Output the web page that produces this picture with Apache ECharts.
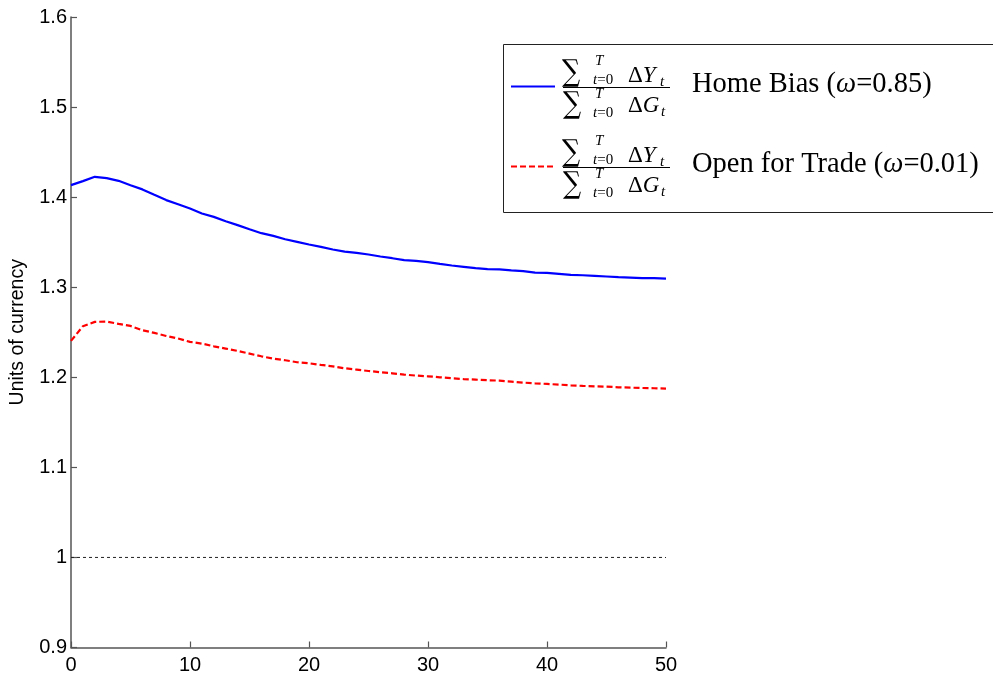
<!DOCTYPE html>
<html>
<head>
<meta charset="utf-8">
<script src="https://cdn.jsdelivr.net/npm/echarts@6/dist/echarts.min.js"></script>
<style>
html,body{margin:0;padding:0;background:#fff;}
#chart{width:993px;height:677px;}
</style>
</head>
<body>
<div id="chart"></div>
<script>
// ---- data ----
const periods = [0,1,2,3,4,5,6,7,8,9,10,11,12,13,14,15,16,17,18,19,20,21,22,23,24,25,26,27,28,29,30,31,32,33,34,35,36,37,38,39,40,41,42,43,44,45,46,47,48,49,50];
const homeBias = [1.4133,1.4178,1.4226,1.4211,1.4181,1.4133,1.4086,1.4026,1.3967,1.3922,1.3874,1.3819,1.3781,1.3733,1.3689,1.3644,1.3600,1.3570,1.3533,1.3504,1.3474,1.3448,1.3419,1.3396,1.3381,1.3363,1.3341,1.3322,1.3300,1.3293,1.3278,1.3259,1.3241,1.3226,1.3211,1.3200,1.3197,1.3186,1.3178,1.3163,1.3159,1.3148,1.3137,1.3133,1.3126,1.3119,1.3111,1.3107,1.3100,1.3100,1.3096];
const openTrade = [1.2404,1.2567,1.2615,1.2619,1.2593,1.2570,1.2522,1.2493,1.2459,1.2430,1.2393,1.2374,1.2344,1.2319,1.2293,1.2263,1.2233,1.2207,1.2189,1.2167,1.2156,1.2137,1.2122,1.2100,1.2085,1.2070,1.2056,1.2044,1.2030,1.2019,1.2011,1.2000,1.1989,1.1980,1.1974,1.1967,1.1963,1.1952,1.1941,1.1933,1.1926,1.1919,1.1911,1.1904,1.1900,1.1896,1.1889,1.1885,1.1881,1.1878,1.1874];
const refX = [0, 50];
const refY = [1, 1];
const seriesNames = ['Home Bias (ω=0.85)', 'Open for Trade (ω=0.01)'];
const yAxisTitle = 'Units of currency';

const pairs = (xs, ys) => xs.map((x, i) => [x, ys[i]]);

const chart = echarts.init(document.getElementById('chart'), null, {renderer: 'canvas'});

const axisFont = {fontFamily: 'Liberation Sans, Arial, sans-serif', fontSize: 20, color: '#000'};
const axisLine = {show: true, lineStyle: {color: '#555', width: 1.5}};

function legendEntry(dy, color, dash, richLabel) {
  const serif = 'Liberation Serif, Times New Roman, serif';
  const els = [];
  const txt = (x, y, style, extra) => Object.assign({type: 'text', x: x, y: y + dy, z: 101,
    style: Object.assign({fill: '#000', verticalAlign: 'middle', fontFamily: serif}, style)}, extra || {});
  els.push({type: 'line', shape: {x1: 511, y1: 86.5 + dy, x2: 555, y2: 86.5 + dy},
    style: {stroke: color, lineWidth: 2, lineDash: dash}, z: 101});
  // numerator
  els.push(txt(562, 73, {text: '∑', fontFamily: 'DejaVu Serif', fontSize: 30}, {scaleX: 0.85}));
  els.push(txt(595, 61, {text: 'T', fontStyle: 'italic', fontSize: 15}));
  els.push(txt(593, 80, {text: '{i|t}=0', rich: {i: {fontStyle: 'italic', fontFamily: serif, fontSize: 15}}, fontSize: 15}));
  els.push(txt(628, 76, {text: 'Δ{i|Y}', rich: {i: {fontStyle: 'italic', fontFamily: serif, fontSize: 23}}, fontSize: 23}));
  els.push(txt(660, 82, {text: 't', fontStyle: 'italic', fontSize: 15}));
  // fraction bar
  els.push({type: 'line', shape: {x1: 563, y1: 87.5 + dy, x2: 670, y2: 87.5 + dy}, style: {stroke: '#000', lineWidth: 1}, z: 101});
  // denominator
  els.push(txt(563, 105, {text: '∑', fontFamily: 'DejaVu Serif', fontSize: 30}, {scaleX: 0.85}));
  els.push(txt(595, 94, {text: 'T', fontStyle: 'italic', fontSize: 15}));
  els.push(txt(593, 113, {text: '{i|t}=0', rich: {i: {fontStyle: 'italic', fontFamily: serif, fontSize: 15}}, fontSize: 15}));
  els.push(txt(628, 106, {text: 'Δ{i|G}', rich: {i: {fontStyle: 'italic', fontFamily: serif, fontSize: 23}}, fontSize: 23}));
  els.push(txt(661, 112, {text: 't', fontStyle: 'italic', fontSize: 15}));
  // label
  els.push(txt(692, 85, {text: richLabel, rich: {i: {fontStyle: 'italic', fontFamily: serif, fontSize: 28.5}}, fontSize: 28.5}));
  return els;
}

const hbLabel = seriesNames[0].replace('ω', '{i|ω}');
const otLabel = seriesNames[1].replace('ω', '{i|ω}');

const option = {
  backgroundColor: '#fff',
  animation: false,
  grid: {left: 70.5, right: 327, top: 17, bottom: 29.5, containLabel: false},
  xAxis: {
    type: 'value', min: 0, max: 50, interval: 10,
    axisLine: axisLine,
    axisTick: {show: true, inside: true, length: 6, lineStyle: {color: '#555', width: 1.2}},
    axisLabel: Object.assign({margin: 8}, axisFont),
    splitLine: {show: false}
  },
  yAxis: {
    type: 'value', min: 0.9, max: 1.6, interval: 0.1,
    name: yAxisTitle, nameLocation: 'middle', nameGap: 43,
    nameTextStyle: {fontFamily: 'Liberation Sans, Arial, sans-serif', fontSize: 19.5, color: '#000'},
    axisLine: axisLine,
    axisTick: {show: true, inside: true, length: 6, lineStyle: {color: '#555', width: 1.2}},
    axisLabel: Object.assign({margin: 4, formatter: v => String(Math.round(v * 10) / 10)}, axisFont),
    splitLine: {show: false}
  },
  series: [
    {name: seriesNames[0], type: 'line', data: pairs(periods, homeBias), showSymbol: false, smooth: false,
      lineStyle: {color: '#0000ff', width: 2.2}, itemStyle: {color: '#0000ff'}, z: 3},
    {name: seriesNames[1], type: 'line', data: pairs(periods, openTrade), showSymbol: false,
      lineStyle: {color: '#ff0000', width: 2.2, type: [6, 3]}, itemStyle: {color: '#ff0000'}, z: 3},
    {name: 'ref', type: 'line', data: pairs(refX, refY), showSymbol: false,
      lineStyle: {color: '#222', width: 1, type: [3, 3]}, z: 2}
  ],
  graphic: [
    {type: 'rect', shape: {x: 503.5, y: 44.5, width: 520, height: 168}, style: {fill: '#fff', stroke: '#222', lineWidth: 1}, z: 100}
  ].concat(legendEntry(0, '#0000ff', null, hbLabel))
   .concat(legendEntry(80, '#ff0000', [6, 3], otLabel))
};

chart.setOption(option);
</script>
</body>
</html>
